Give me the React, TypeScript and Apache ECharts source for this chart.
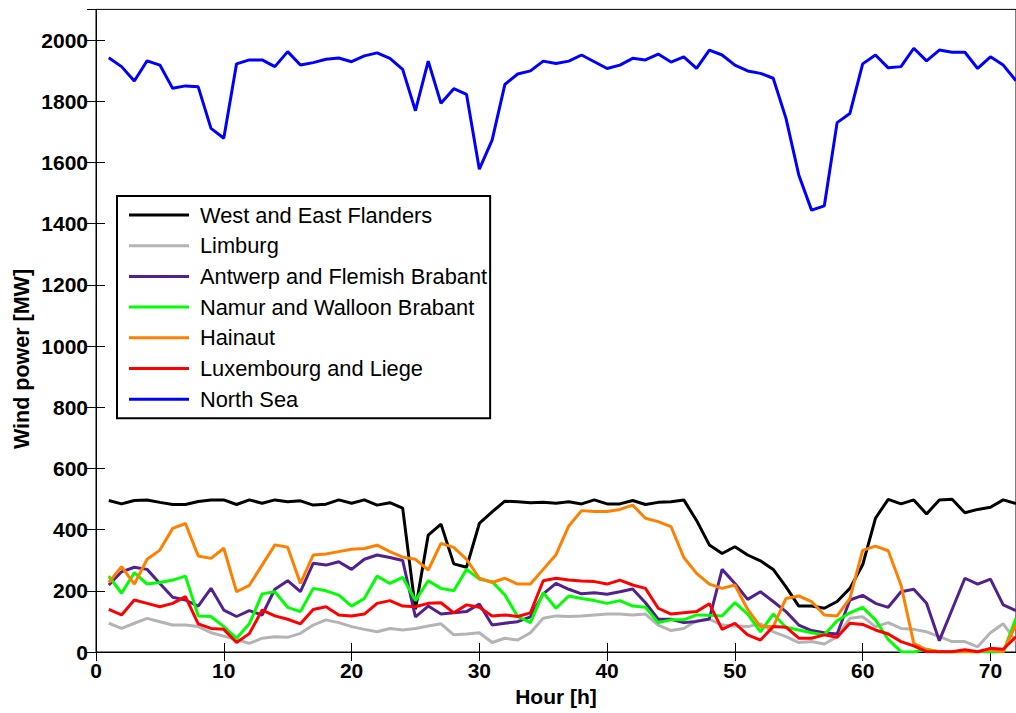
import React, { useEffect, useRef } from "react";
import * as echarts from "echarts";

// Hourly wind power per region, hours 1..72 (MW)
const hours: number[] = Array.from({ length: 72 }, (_, i) => i + 1);

const westEastFlanders = [
  495, 484, 495, 497, 489, 482, 482, 492, 497, 497, 482, 497,
  486, 497, 491, 494, 480, 483, 497, 486, 497, 480, 488, 470,
  140, 382, 418, 288, 277, 420, 458, 493, 491, 488, 489, 486,
  491, 484, 497, 484, 484, 495, 482, 489, 491, 497, 430, 350,
  322, 344, 317, 298, 270, 213, 150, 150, 143, 165, 208, 285,
  437, 499, 484, 497, 451, 497, 499, 455, 466, 473, 497, 485,
];

const limburg = [
  94, 77, 94, 110, 99, 88, 88, 83, 63, 52, 41, 28,
  45, 50, 48, 61, 88, 105, 96, 83, 74, 66, 77, 72,
  77, 85, 92, 56, 59, 63, 31, 45, 39, 63, 110, 118,
  116, 118, 121, 124, 124, 121, 124, 88, 70, 77, 102, 107,
  88, 85, 83, 92, 66, 50, 31, 34, 26, 50, 110, 115,
  83, 96, 77, 74, 66, 50, 34, 34, 17, 63, 92, 35,
];

const antwerpFlemishBrabant = [
  219, 262, 277, 270, 224, 179, 170, 150, 208, 137, 116, 135,
  121, 205, 233, 197, 290, 284, 295, 270, 303, 317, 309, 299,
  115, 150, 124, 128, 132, 157, 88, 94, 99, 115, 190, 224,
  205, 190, 194, 189, 197, 206, 161, 107, 107, 96, 100, 108,
  270, 224, 172, 197, 165, 132, 88, 70, 63, 59, 170, 185,
  159, 146, 197, 205, 159, 37, 139, 241, 222, 238, 154, 135,
];

const namurWalloonBrabant = [
  248, 192, 259, 222, 227, 235, 248, 118, 116, 83, 45, 92,
  190, 197, 146, 132, 208, 200, 186, 150, 175, 248, 224, 244,
  168, 233, 208, 200, 270, 238, 230, 186, 116, 96, 194, 143,
  183, 175, 168, 159, 168, 150, 146, 96, 105, 105, 121, 120,
  118, 161, 124, 66, 124, 81, 72, 63, 56, 102, 128, 146,
  105, 41, 1, 0, 9, 1, 0, 0, 0, 0, 0, 110,
];

const hainaut = [
  227, 279, 222, 303, 333, 404, 420, 314, 306, 339, 197, 218,
  284, 350, 342, 224, 317, 320, 328, 336, 338, 349, 328, 310,
  303, 268, 355, 342, 303, 241, 227, 241, 222, 222, 270, 318,
  412, 462, 459, 459, 466, 480, 437, 426, 410, 309, 257, 222,
  208, 219, 139, 83, 83, 175, 183, 165, 121, 118, 175, 332,
  346, 331, 219, 28, 7, 1, 1, 1, 1, 7, 1, 90,
];

const luxembourgLiege = [
  139, 121, 170, 159, 148, 159, 181, 92, 77, 74, 31, 60,
  137, 118, 107, 92, 139, 148, 121, 118, 124, 159, 168, 150,
  148, 159, 161, 128, 154, 146, 118, 121, 116, 128, 233, 241,
  235, 232, 230, 222, 235, 219, 208, 143, 124, 128, 132, 158,
  74, 94, 56, 39, 83, 81, 45, 45, 56, 48, 94, 90,
  72, 59, 34, 20, 1, 1, 1, 7, 1, 12, 9, 50,
];

const northSea = [
  1942, 1913, 1866, 1932, 1918, 1842, 1850, 1847, 1711, 1679, 1922, 1935,
  1935, 1913, 1962, 1918, 1926, 1937, 1941, 1929, 1948, 1958, 1940, 1904,
  1769, 1931, 1793, 1841, 1822, 1578, 1673, 1855, 1889, 1899, 1931, 1923,
  1931, 1951, 1929, 1907, 1918, 1940, 1935, 1954, 1928, 1945, 1907, 1967,
  1951, 1918, 1899, 1891, 1875, 1744, 1559, 1444, 1458, 1730, 1760, 1922,
  1951, 1909, 1913, 1973, 1932, 1967, 1960, 1960, 1907, 1945, 1918, 1867,
];

const seriesNames = [
  "West and East Flanders",
  "Limburg",
  "Antwerp and Flemish Brabant",
  "Namur and Walloon Brabant",
  "Hainaut",
  "Luxembourg and Liege",
  "North Sea",
];
const seriesValues = [
  westEastFlanders,
  limburg,
  antwerpFlemishBrabant,
  namurWalloonBrabant,
  hainaut,
  luxembourgLiege,
  northSea,
];
const seriesColors = [
  "#000000",
  "#b4b4b4",
  "#52218f",
  "#00ff00",
  "#ff8000",
  "#ff0000",
  "#0000ff",
];

const FONT = "'Liberation Sans', Arial, Helvetica, sans-serif";

export default function App() {
  const ref = useRef<HTMLDivElement>(null);

  useEffect(() => {
    if (!ref.current) return;
    const chart = echarts.init(ref.current, null, { renderer: "svg" });

    const axisLine = { show: true, lineStyle: { color: "#000", width: 1 } };
    const inTick = { show: true, inside: true, length: 9, lineStyle: { color: "#000", width: 1 } };
    const tickFont = { fontFamily: FONT, fontSize: 21, fontWeight: "bold", color: "#000" };

    chart.setOption({
      animation: false,
      backgroundColor: "#fff",
      grid: {
        left: 96,
        top: 9.4,
        right: -6.7,
        bottom: 61,
        containLabel: false,
        show: true,
        borderColor: "#000",
        borderWidth: 1,
      },
      legend: {
        left: 117,
        top: 196,
        orient: "vertical",
        data: seriesNames,
        icon: "rect",
        itemWidth: 60,
        itemHeight: 3,
        itemGap: 8.7,
        padding: [8, 3, 8, 12],
        borderColor: "#000",
        borderWidth: 2,
        backgroundColor: "#fff",
        textStyle: {
          fontFamily: FONT,
          fontSize: 21.8,
          color: "#000",
          lineHeight: 22,
          padding: [0, 0, 0, 6],
        },
      },
      graphic: [
        {
          type: "text",
          x: 22,
          y: 359,
          rotation: Math.PI / 2,
          style: {
            text: "Wind power [MW]",
            align: "center",
            verticalAlign: "middle",
            font: `bold 21.5px ${FONT}`,
            fill: "#000",
          },
        },
      ],
      xAxis: [
        {
          type: "value",
          min: 0,
          max: 72,
          interval: 10,
          position: "bottom",
          axisLine,
          axisTick: inTick,
          splitLine: { show: false },
          axisLabel: { showMaxLabel: false, margin: 8, ...tickFont },
          name: "Hour [h]",
          nameLocation: "middle",
          nameGap: 32,
          nameTextStyle: { ...tickFont },
        },
        {
          type: "value",
          min: 0,
          max: 72,
          interval: 10,
          position: "top",
          axisLine,
          axisTick: inTick,
          splitLine: { show: false },
          axisLabel: { show: false },
        },
      ],
      yAxis: [
        {
          type: "value",
          min: 0,
          max: 2100,
          interval: 200,
          position: "left",
          axisLine,
          axisTick: inTick,
          splitLine: { show: false },
          axisLabel: {
            showMaxLabel: false,
            margin: 8,
            formatter: (v: number) => String(v),
            ...tickFont,
          },
        },
        {
          type: "value",
          min: 0,
          max: 2100,
          interval: 200,
          position: "right",
          axisLine,
          axisTick: inTick,
          splitLine: { show: false },
          axisLabel: { show: false },
        },
      ],
      series: seriesNames.map((name, i) => ({
        name,
        type: "line",
        xAxisIndex: 0,
        yAxisIndex: 0,
        data: hours.map((h, j) => [h, seriesValues[i][j]]),
        showSymbol: false,
        symbol: "none",
        lineStyle: { color: seriesColors[i], width: 3 },
        itemStyle: { color: seriesColors[i] },
        emphasis: { disabled: true },
      })),
    });

    return () => chart.dispose();
  }, []);

  return (
    <div
      style={{
        position: "fixed",
        left: 0,
        top: 0,
        width: 1016,
        height: 713,
        overflow: "hidden",
        background: "#fff",
      }}
    >
      <div ref={ref} style={{ width: 1016, height: 713 }} />
    </div>
  );
}
